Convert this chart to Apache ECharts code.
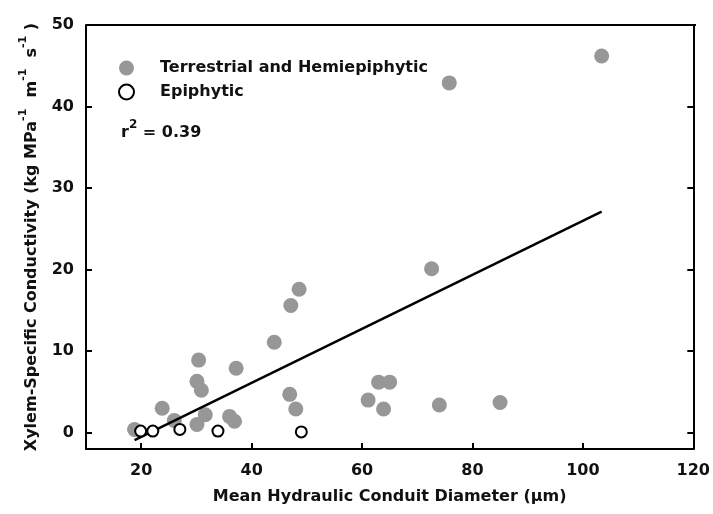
<!DOCTYPE html>
<html>
<head>
<meta charset="utf-8">
<script src="https://cdn.jsdelivr.net/npm/echarts@6/dist/echarts.min.js"></script>
<style>
  html, body { margin: 0; padding: 0; background: #fff; }
  #chart { width: 713px; height: 514px; }
</style>
</head>
<body>
<div id="chart"></div>
<script>
// terrestrial + hemiepiphytic species [diameter um, conductivity]
var terrestrial = [
  [103.4, 46.2], [75.8, 42.9], [72.6, 20.1], [48.6, 17.6], [47.1, 15.6],
  [44.1, 11.1], [30.4, 8.9], [37.2, 7.9], [30.1, 6.3], [30.9, 5.2],
  [23.8, 3.0], [31.6, 2.2], [26.0, 1.5], [36.0, 2.0], [36.9, 1.4],
  [30.1, 1.0], [18.8, 0.4], [46.9, 4.7], [48.0, 2.9], [61.1, 4.0],
  [63.0, 6.2], [65.0, 6.2], [63.9, 2.9], [74.0, 3.4], [85.0, 3.7]
];
// epiphytic species
var epiphytic = [
  [19.9, 0.2], [22.1, 0.2], [27.0, 0.4], [33.9, 0.2], [49.0, 0.1]
];
// regression line ends
var fitLine = [[18.8, -0.9], [103.4, 27.1]];
var xTickLabels = [20, 40, 60, 80, 100, 120];
var yTickLabels = [0, 10, 20, 30, 40, 50];

var chart = echarts.init(document.getElementById("chart"));
var font = "DejaVu Sans, Verdana, sans-serif";

var option = {
  animation: false,
  grid: { left: 86, top: 25, right: 17, bottom: 65 },
  legend: {
    orient: "vertical",
    left: 113,
    top: 54,
    itemWidth: 15,
    itemHeight: 15,
    itemGap: 6,
    data: ["Terrestrial and Hemiepiphytic", "Epiphytic"],
    textStyle: {
      fontFamily: font, fontWeight: "bold", fontSize: 16, color: "#111",
      lineHeight: 18, padding: [0, 0, 0, 21]
    }
  },
  xAxis: {
    type: "value",
    min: 10,
    max: 120,
    interval: 10,
    name: "Mean Hydraulic Conduit Diameter (\u03bcm)",
    nameLocation: "middle",
    nameGap: 40,
    nameTextStyle: { fontFamily: font, fontWeight: "bold", fontSize: 16, color: "#111" },
    axisLine: { onZero: false, lineStyle: { color: "#000", width: 2 } },
    axisTick: {
      inside: true, length: 6, lineStyle: { color: "#000", width: 2 },
      customValues: xTickLabels.slice(0, 5)
    },
    axisLabel: {
      fontFamily: font, fontWeight: "bold", fontSize: 16, color: "#111", margin: 14,
      customValues: xTickLabels
    },
    splitLine: { show: false }
  },
  yAxis: [
    {
      type: "value",
      min: -2,
      max: 50,
      interval: 2,
      name: "{a|Xylem-Specific Conductivity (kg MPa}{s|-1}{a|  m}{s|-1}{a|  s}{s|-1}{a| )}",
      nameLocation: "middle",
      nameGap: 46,
      nameTextStyle: {
        rich: {
          a: { fontFamily: font, fontWeight: "bold", fontSize: 16, color: "#111", lineHeight: 22, verticalAlign: "bottom" },
          s: { fontFamily: font, fontWeight: "bold", fontSize: 11, color: "#111", lineHeight: 22, verticalAlign: "top" }
        }
      },
      axisLine: { onZero: false, lineStyle: { color: "#000", width: 2 } },
      axisTick: {
        inside: true, length: 6, lineStyle: { color: "#000", width: 2 },
        customValues: yTickLabels.slice(0, 5)
      },
      axisLabel: {
        fontFamily: font, fontWeight: "bold", fontSize: 16, color: "#111", margin: 12,
        customValues: yTickLabels
      },
      splitLine: { show: false }
    },
    {
      type: "value",
      position: "right",
      min: -2,
      max: 50,
      interval: 2,
      axisLine: { show: true, onZero: false, lineStyle: { color: "#000", width: 2 } },
      axisTick: {
        inside: true, length: 6, lineStyle: { color: "#000", width: 2 },
        customValues: yTickLabels.slice(0, 5)
      },
      axisLabel: { show: false },
      splitLine: { show: false }
    }
  ],
  graphic: [
    {
      type: "line",
      shape: { x1: 86, y1: 25, x2: 696, y2: 25 },
      style: { stroke: "#000", lineWidth: 2 }
    },
    {
      type: "text",
      left: 121,
      top: 119,
      style: {
        text: "{a|r}{s|2}{a| = 0.39}",
        rich: {
          a: { fontFamily: font, fontWeight: "bold", fontSize: 16, fill: "#111", lineHeight: 22, verticalAlign: "bottom" },
          s: { fontFamily: font, fontWeight: "bold", fontSize: 12, fill: "#111", lineHeight: 22, verticalAlign: "top" }
        }
      }
    }
  ],
  series: [
    {
      name: "Fit",
      type: "line",
      data: fitLine,
      symbol: "none",
      lineStyle: { color: "#000", width: 2.5 },
      z: 3
    },
    {
      name: "Terrestrial and Hemiepiphytic",
      type: "scatter",
      data: terrestrial,
      symbol: "circle",
      symbolSize: 15,
      itemStyle: { color: "#979797", opacity: 1 },
      z: 2
    },
    {
      name: "Epiphytic",
      type: "scatter",
      data: epiphytic,
      symbol: "circle",
      symbolSize: 11,
      itemStyle: { color: "#fff", borderColor: "#000", borderWidth: 2, opacity: 1 },
      z: 4
    }
  ]
};

chart.setOption(option);
window.addEventListener("resize", function () {
  chart.resize();
});
</script>
</body>
</html>
